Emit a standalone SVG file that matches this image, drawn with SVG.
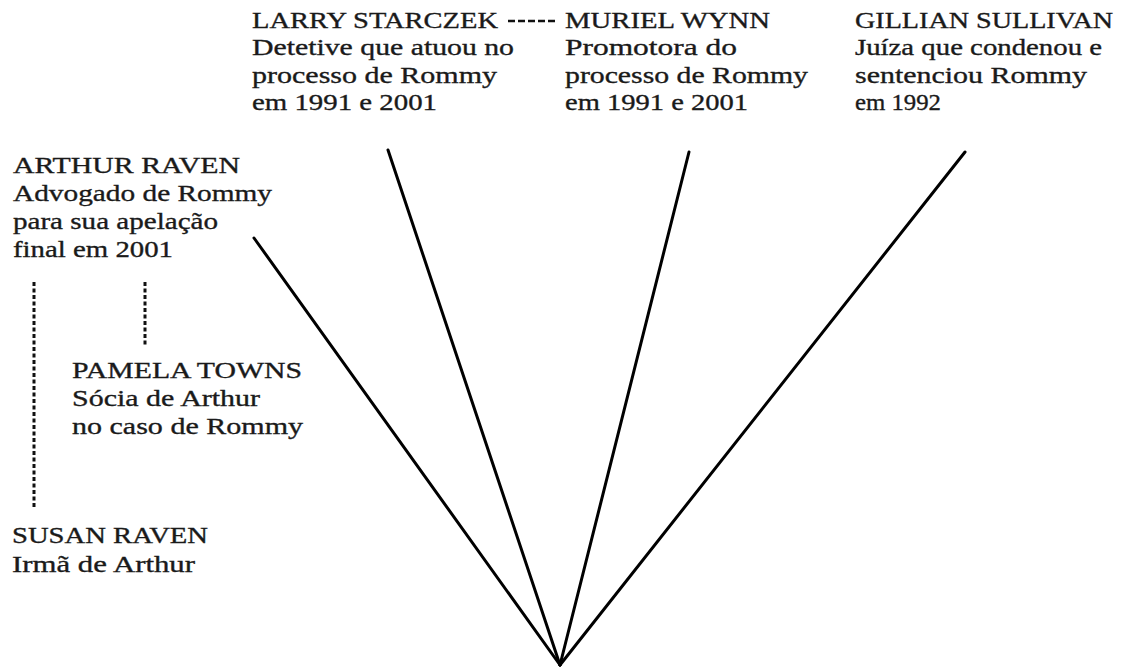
<svg xmlns="http://www.w3.org/2000/svg" width="1123" height="668" viewBox="0 0 1123 668">
<style>
.solid { stroke: #000; stroke-width: 3; fill: none; stroke-linecap: round; }
.dashv { stroke: #111; stroke-width: 3; fill: none; stroke-dasharray: 4 2.5; }
.dashh { stroke: #111; stroke-width: 2.5; fill: none; stroke-dasharray: 7 3; }
.lbl text { font-family: "Liberation Serif", "Times New Roman", serif; font-size: 24px; fill: #1a1a1a; stroke: #1a1a1a; stroke-width: 0.35px; }
</style>
<rect width="1123" height="668" fill="#fff"/>
<g id="connectors">
  <line class="solid" x1="254" y1="238" x2="560" y2="665"/>
  <line class="solid" x1="388" y1="150" x2="560" y2="665"/>
  <line class="solid" x1="689" y1="152" x2="560" y2="665"/>
  <line class="solid" x1="965" y1="152" x2="560" y2="665"/>
  <line class="dashh" x1="508" y1="21" x2="555" y2="21"/>
  <line class="dashv" x1="34" y1="282" x2="34" y2="509"/>
  <line class="dashv" x1="145" y1="282" x2="145" y2="346"/>
</g>
<g class="lbl">
<g id="larry">
  <text x="252" y="28" textLength="246" lengthAdjust="spacingAndGlyphs">LARRY STARCZEK</text>
  <text x="252" y="55" textLength="262" lengthAdjust="spacingAndGlyphs">Detetive que atuou no</text>
  <text x="252" y="83" textLength="245" lengthAdjust="spacingAndGlyphs">processo de Rommy</text>
  <text x="252" y="110" textLength="185" lengthAdjust="spacingAndGlyphs">em 1991 e 2001</text>
</g>
<g id="muriel">
  <text x="565" y="28" textLength="205" lengthAdjust="spacingAndGlyphs">MURIEL WYNN</text>
  <text x="565" y="55" textLength="172" lengthAdjust="spacingAndGlyphs">Promotora do</text>
  <text x="565" y="83" textLength="243" lengthAdjust="spacingAndGlyphs">processo de Rommy</text>
  <text x="565" y="110" textLength="183" lengthAdjust="spacingAndGlyphs">em 1991 e 2001</text>
</g>
<g id="gillian">
  <text x="855" y="28" textLength="258" lengthAdjust="spacingAndGlyphs">GILLIAN SULLIVAN</text>
  <text x="855" y="55" textLength="247" lengthAdjust="spacingAndGlyphs">Juíza que condenou e</text>
  <text x="855" y="83" textLength="232" lengthAdjust="spacingAndGlyphs">sentenciou Rommy</text>
  <text x="855" y="110" textLength="86" lengthAdjust="spacingAndGlyphs">em 1992</text>
</g>
<g id="arthur">
  <text x="13" y="173" textLength="227" lengthAdjust="spacingAndGlyphs">ARTHUR RAVEN</text>
  <text x="13" y="201" textLength="259" lengthAdjust="spacingAndGlyphs">Advogado de Rommy</text>
  <text x="13" y="229" textLength="205" lengthAdjust="spacingAndGlyphs">para sua apelação</text>
  <text x="13" y="257" textLength="160" lengthAdjust="spacingAndGlyphs">final em 2001</text>
</g>
<g id="pamela">
  <text x="72" y="378" textLength="230" lengthAdjust="spacingAndGlyphs">PAMELA TOWNS</text>
  <text x="72" y="406" textLength="188" lengthAdjust="spacingAndGlyphs">Sócia de Arthur</text>
  <text x="72" y="434" textLength="231" lengthAdjust="spacingAndGlyphs">no caso de Rommy</text>
</g>
<g id="susan">
  <text x="12" y="543" textLength="196" lengthAdjust="spacingAndGlyphs">SUSAN RAVEN</text>
  <text x="12" y="572" textLength="183" lengthAdjust="spacingAndGlyphs">Irmã de Arthur</text>
</g>
</g>
</svg>
